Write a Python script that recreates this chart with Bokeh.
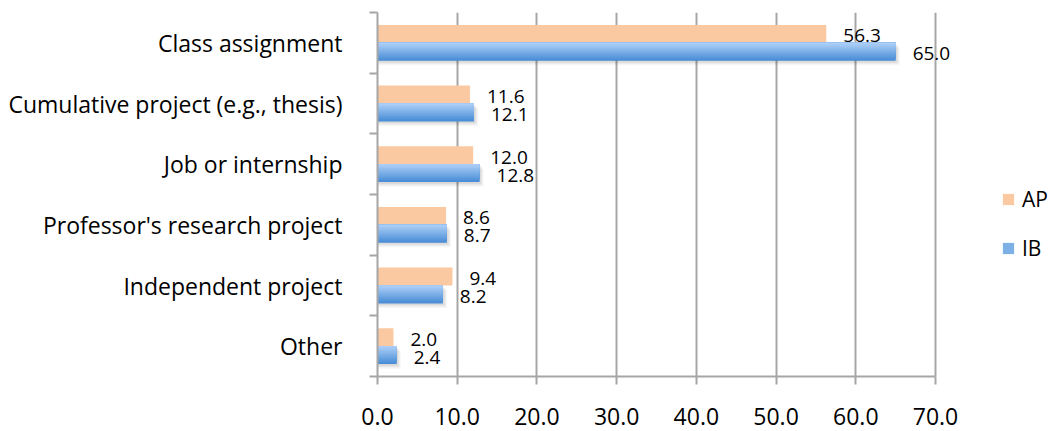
from bokeh.plotting import figure
from bokeh.models import (Range1d, FixedTicker, NumeralTickFormatter, Legend, LegendItem,
                          ColumnDataSource, LabelSet)
from bokeh.transform import dodge
from bokeh.core.properties import value
from bokeh.embed import file_html
from bokeh.resources import INLINE

categories = ["Class assignment", "Cumulative project (e.g., thesis)", "Job or internship",
              "Professor's research project", "Independent project", "Other"]
ap_values = [56.3, 11.6, 12.0, 8.6, 9.4, 2.0]
ib_values = [65.0, 12.1, 12.8, 8.7, 8.2, 2.4]
series_names = ["AP", "IB"]
x_ticks = [0, 10, 20, 30, 40, 50, 60, 70]

FONT = "Open Sans"
GRID = "#A6A6A6"
AP_COLOR = "#FAC9A1"

W, H = 1052, 431
LEFT, RIGHT_AXIS, TOP, BOTTOM = 377, 935, 12, 376
x_max = x_ticks[-1]
# frame runs to the page edge so that labels/legend past 70 are not clipped
x_end = x_max * (W - LEFT) / (RIGHT_AXIS - LEFT)

n = len(categories)
ypos = [n - i - 0.5 for i in range(n)]
source = ColumnDataSource(dict(
    y=ypos, ap=ap_values, ib=ib_values,
    ap_lbl=[f"{v:.1f}" for v in ap_values],
    ib_lbl=[f"{v:.1f}" for v in ib_values],
))

p = figure(width=W, height=H, x_range=Range1d(0, x_end), y_range=Range1d(0, n),
           output_backend="svg", toolbar_location=None,
           min_border_left=LEFT, min_border_right=0, min_border_top=TOP,
           min_border_bottom=H - BOTTOM)
p.outline_line_color = None
p.background_fill_color = "white"
p.border_fill_color = "white"

bar_h = 0.296

ap_r = p.hbar(y=dodge("y", bar_h / 2), left=0, right="ap", height=bar_h, source=source,
              fill_color=AP_COLOR, line_color=None)

# soft shadow under IB bars
for dy, dx, a in [(0.075, 0.5, 0.04), (0.05, 0.35, 0.05), (0.03, 0.2, 0.06)]:
    p.hbar(y=dodge("y", -bar_h / 2 - dy), left=0, right=dodge("ib", dx), height=bar_h,
           source=source, fill_color="#000000", fill_alpha=a, line_color=None)

# IB bars with vertical gradient: nested bars anchored at the top edge
top = (172, 206, 247)
bot = (72, 141, 214)
N = 14
ib_mid = None
for i in range(N):
    f = 1 - i / (N - 1)          # first (full) bar = bottom colour
    c = tuple(int(round(top[j] + (bot[j] - top[j]) * f)) for j in range(3))
    col = "#%02x%02x%02x" % c
    hk = bar_h * (N - i) / N
    r = p.hbar(y=dodge("y", -hk / 2), left=0, right="ib", height=hk,
               source=source, fill_color=col, line_color=None)
    if i == N // 2:
        ib_mid = r

# value labels
for field, lbl, off in [("ap", "ap_lbl", bar_h / 2), ("ib", "ib_lbl", -bar_h / 2)]:
    ls = LabelSet(x=field, y=dodge("y", off), text=lbl, source=source,
                  x_offset=17, y_offset=-2, text_align="left", text_baseline="middle",
                  text_font=value(FONT), text_font_size="19px", text_color="black")
    p.add_layout(ls)

# axes
xa = p.xaxis[0]
xa.ticker = FixedTicker(ticks=x_ticks)
xa.bounds = (0, x_max)
xa.formatter = NumeralTickFormatter(format="0.0")
xa.axis_line_color = GRID
xa.axis_line_width = 2
xa.major_tick_line_color = GRID
xa.major_tick_line_width = 2
xa.major_tick_out = 8
xa.major_tick_in = 0
xa.minor_tick_line_color = None
xa.major_label_text_font = FONT
xa.major_label_text_font_size = "23px"
xa.major_label_text_color = "black"
xa.major_label_standoff = 23

ya = p.yaxis[0]
ya.ticker = FixedTicker(ticks=ypos, minor_ticks=list(range(n + 1)))
ya.major_label_overrides = {y: c for y, c in zip(ypos, categories)}
ya.axis_line_color = GRID
ya.axis_line_width = 2
ya.major_tick_line_color = None
ya.major_tick_out = 0
ya.major_tick_in = 0
ya.minor_tick_line_color = GRID
ya.minor_tick_line_width = 2
ya.minor_tick_out = 8
ya.minor_tick_in = 0
ya.major_label_text_font = FONT
ya.major_label_text_font_size = "23px"
ya.major_label_text_color = "black"
ya.major_label_standoff = 27

p.xgrid.ticker = FixedTicker(ticks=x_ticks)
p.xgrid.grid_line_color = GRID
p.xgrid.grid_line_width = 2
p.ygrid.grid_line_color = None

legend = Legend(items=[LegendItem(label=series_names[0], renderers=[ap_r]),
                       LegendItem(label=series_names[1], renderers=[ib_mid])],
                location=(1001 - LEFT, BOTTOM - 262), orientation="vertical",
                border_line_color=None, background_fill_alpha=0,
                glyph_width=14, glyph_height=14, label_standoff=7,
                label_text_font=FONT, label_text_font_size="21px", label_text_color="black",
                label_height=20, spacing=21, padding=0, margin=0)
p.add_layout(legend, "center")

open("out.html", "w").write(file_html(p, INLINE))
